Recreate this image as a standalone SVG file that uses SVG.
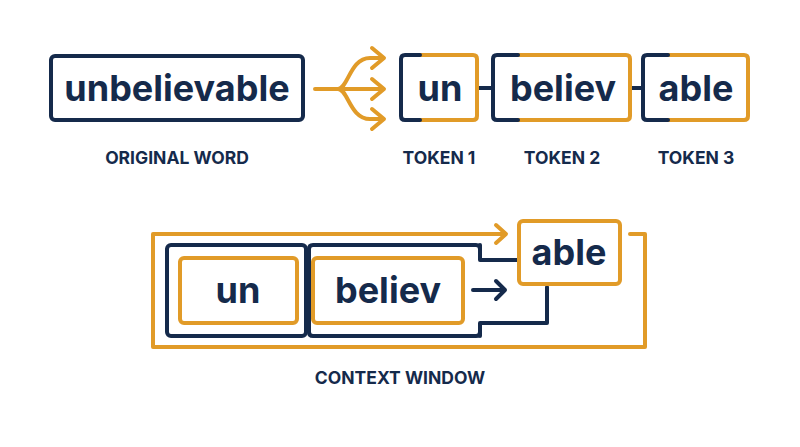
<svg xmlns="http://www.w3.org/2000/svg" width="800" height="447" viewBox="0 0 800 447">
<defs>
<style>
.nv{fill:none;stroke:#152a4b;stroke-width:4;stroke-linejoin:round;stroke-linecap:round}
.or{fill:none;stroke:#e19b28;stroke-width:4;stroke-linejoin:round;stroke-linecap:round}
.big{font-family:Inter,"Liberation Sans",sans-serif;font-weight:700;font-size:36px;fill:#152a4b;text-anchor:middle}
.lbl{font-family:Inter,"Liberation Sans",sans-serif;font-weight:700;font-size:17.5px;fill:#152a4b;text-anchor:middle}
</style>
</defs>
<rect width="800" height="447" fill="#ffffff"/>
<g id="original">
<rect x="51" y="56" width="252" height="64" rx="4" fill="#fff" class="nv"/>
<text x="177" y="101" class="big">unbelievable</text>
<text x="177" y="164" class="lbl">ORIGINAL WORD</text>
</g>
<g id="connectors">
<path class="or" d="M315 89 H338 M338 89 C348 89 350 58 370 58 H382 M338 89 H382 M338 89 C348 89 350 119 370 119 H382"/>
<path class="or" d="M372 48 L384 58 L372 68 M372 79 L384 89 L372 99 M372 109 L384 119 L372 129"/>
<path class="nv" d="M477 88 H493 M630 88 H643"/>
<path class="or" d="M630 234 H645 V347 H153 V234 H505"/>
<path class="or" d="M496 225 L506 234 L496 243"/>
<path class="nv" d="M480 245 V260 H518 M480 336 V323 H547 V287"/>
<path class="nv" d="M473 290 H505 M496 281 L505 290 L496 299"/>
</g>
<g id="token1">
<path class="or" d="M420 55 H473 Q477 55 477 59 V116 Q477 120 473 120 H420"/>
<path class="nv" d="M420 55 H405 Q401 55 401 59 V116 Q401 120 405 120 H420"/>
<text x="440" y="101" class="big">un</text>
<text x="439" y="164" class="lbl">TOKEN 1</text>
</g>
<g id="token2">
<path class="or" d="M518 55 H626 Q630 55 630 59 V116 Q630 120 626 120 H518"/>
<path class="nv" d="M518 55 H497 Q493 55 493 59 V116 Q493 120 497 120 H518"/>
<text x="563" y="101" class="big">believ</text>
<text x="562" y="164" class="lbl">TOKEN 2</text>
</g>
<g id="token3">
<path class="or" d="M668 55 H744 Q748 55 748 59 V116 Q748 120 744 120 H668"/>
<path class="nv" d="M668 55 H647 Q643 55 643 59 V116 Q643 120 647 120 H668"/>
<text x="696" y="101" class="big">able</text>
<text x="696" y="164" class="lbl">TOKEN 3</text>
</g>
<g id="window">
<rect x="167" y="245" width="139" height="91" rx="4" class="nv"/>
<path class="nv" d="M476 245 H313 Q309 245 309 249 V332 Q309 336 313 336 H476 Q480 336 480 332 M480 249 Q480 245 476 245"/>
<text x="400" y="384" class="lbl">CONTEXT WINDOW</text>
</g>
<g id="ctx-un">
<rect x="180" y="258" width="117" height="65" rx="4" class="or"/>
<text x="238" y="303" class="big">un</text>
</g>
<g id="ctx-believ">
<rect x="313" y="258" width="150" height="65" rx="4" class="or"/>
<text x="388" y="303" class="big">believ</text>
</g>
<g id="ctx-able">
<rect x="519" y="221" width="101" height="63" rx="4" fill="#fff" class="or"/>
<text x="569" y="265" class="big">able</text>
</g>
</svg>
